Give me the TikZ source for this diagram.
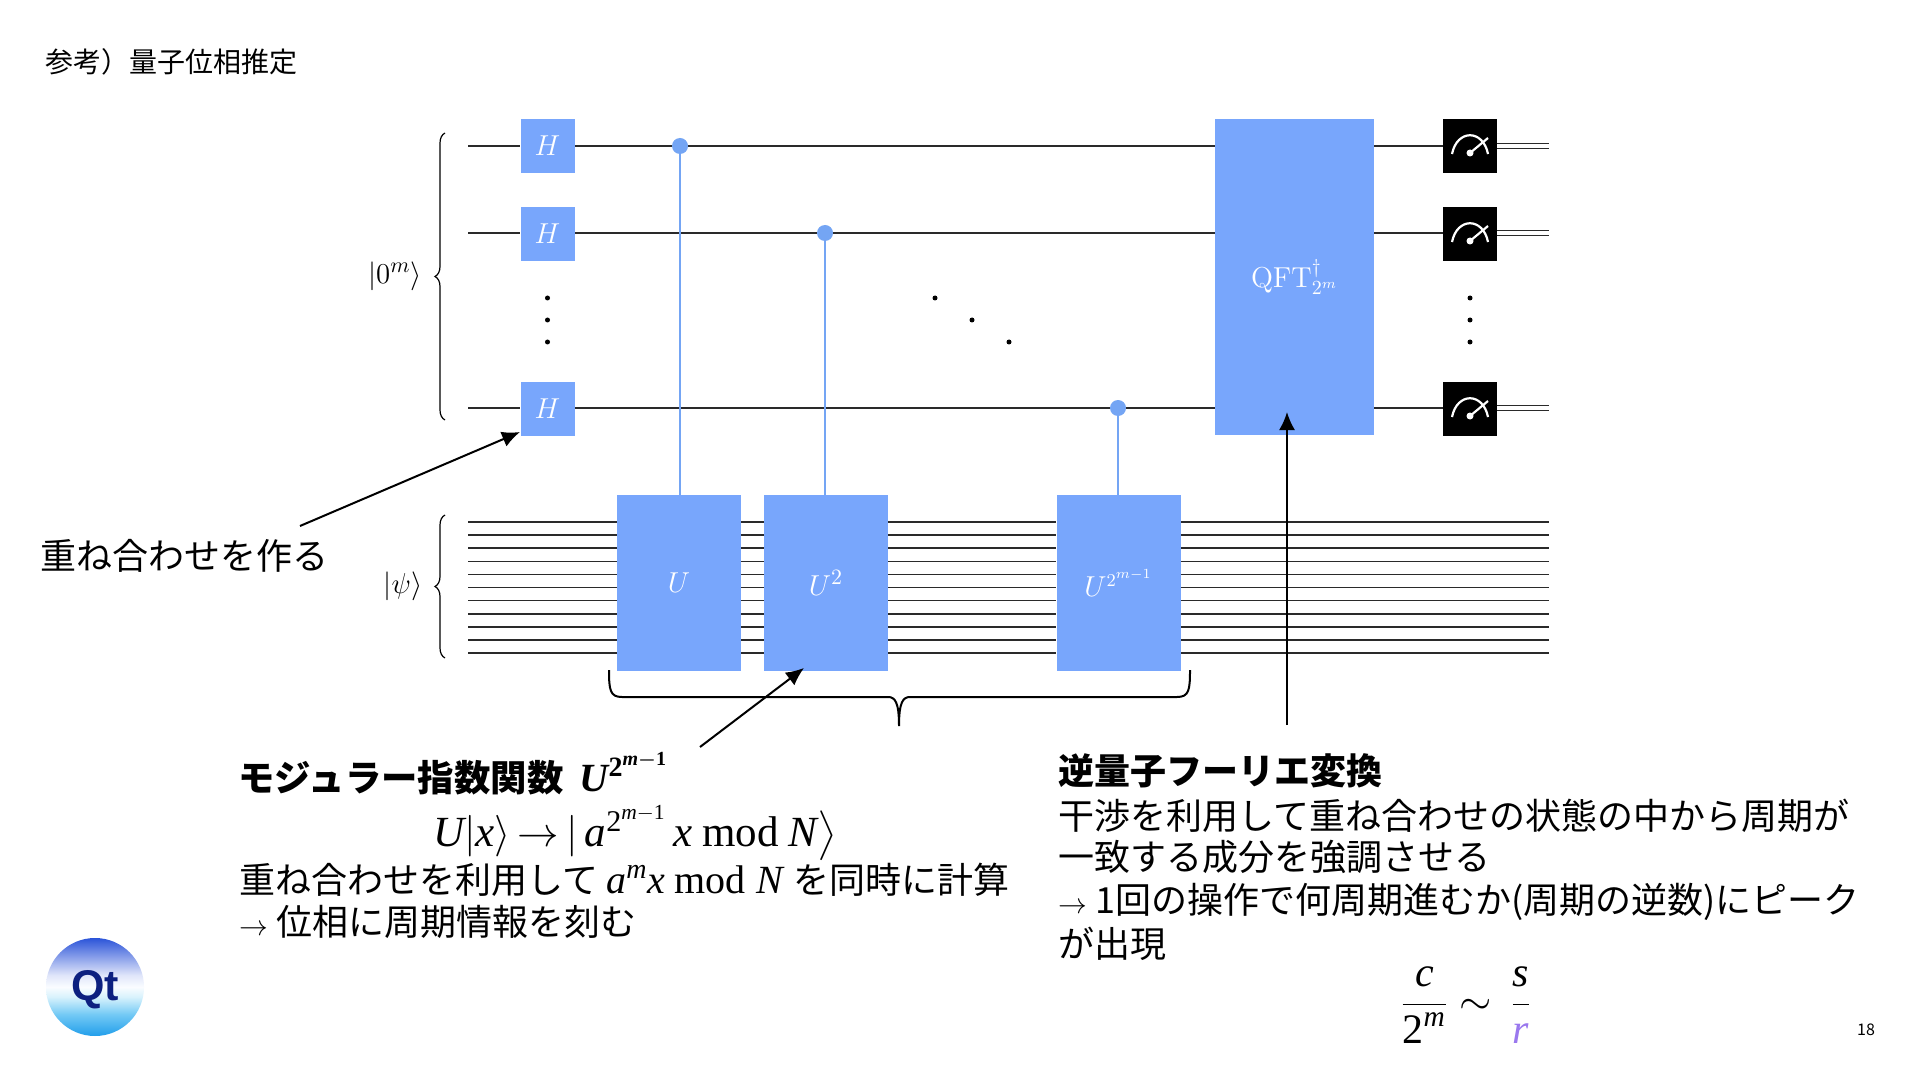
\documentclass[tikz,border=0pt]{standalone}
\usepackage{amsmath}
\usepackage[no-math]{fontspec}
\setmainfont{Noto Sans CJK JP}
\newfontfamily\cam{Liberation Serif}
\newfontfamily\hel{Liberation Sans}
\usetikzlibrary{decorations.pathreplacing,arrows.meta,backgrounds}
\newcommand{\ci}[1]{\text{\cam\itshape #1}}
\newcommand{\cn}[1]{\text{\cam #1}}
\newcommand{\modw}{\text{\cam mod}}
\newcommand{\marrow}{{\fontsize{15}{18}\selectfont$\rightarrow$}\hspace{4pt}}
\newcommand{\msize}{\fontsize{20}{22}\selectfont}
\definecolor{gateblue}{HTML}{78A6FC}
\definecolor{ctrlblue}{HTML}{74A5F4}
\definecolor{wirec}{HTML}{2A2A2A}
\definecolor{purp}{HTML}{9A78EE}
\definecolor{navyq}{HTML}{0D2080}
\pgfdeclareverticalshading{qtball}{100bp}{
 rgb(0bp)=(0.13,0.62,0.92);
 rgb(25bp)=(0.13,0.62,0.92);
 rgb(36bp)=(0.45,0.79,0.96);
 rgb(45bp)=(0.85,0.95,0.99);
 rgb(50bp)=(0.98,0.99,1);
 rgb(56bp)=(0.88,0.90,0.98);
 rgb(75bp)=(0.17,0.33,0.85);
 rgb(100bp)=(0.17,0.33,0.85)}
\tikzset{
 x=0.5pt,y=-0.5pt,
 wire/.style={draw=wirec,line width=0.8pt},
 ctrlline/.style={draw=ctrlblue,line width=1.4pt},
 ctrldot/.style={circle,fill=ctrlblue,inner sep=0pt,minimum size=8pt},
 qgate/.style={fill=gateblue,text=white,inner sep=0pt,font=\fontsize{15.5}{18}\selectfont},
 hgate/.style={qgate,minimum width=27pt,minimum height=27pt},
 ugate/.style={qgate,minimum width=62pt,minimum height=88pt},
 meter/.style={fill=black,inner sep=0pt,minimum width=27pt,minimum height=27pt},
 vdot/.style={circle,fill=black,inner sep=0pt,minimum size=2.5pt},
 lbl/.style={inner sep=0pt,anchor=west,font=\fontsize{18}{22}\selectfont},
 annot/.style={draw=black,line width=1pt,-{Latex[length=9pt,width=8pt]}},
 bracel/.style={draw=black,line width=0.6pt,decorate,decoration={brace,amplitude=5pt}},
}
\begin{document}
\begin{tikzpicture}
\useasboundingbox (0,0) rectangle (1920,1080);
% gates
\node[hgate] (h1) at (547.5,146) {$H$};
\node[hgate] (h2) at (547.5,234) {$H$};
\node[hgate] (h3) at (547.5,409) {$H$};
\node[ugate] (u1) at (679,583) {$U$};
\node[ugate] (u2) at (826,583) {$U^{2}$};
\node[ugate,font=\fontsize{13.5}{16}\selectfont] (u3) at (1118.5,583) {$U^{2^{m-1}}$};
\node[qgate,font=\fontsize{14.5}{16}\selectfont,minimum width=79.5pt,minimum height=158pt] (qft) at (1294.5,277) {$\mathrm{QFT}^{\dagger}_{2^m}$};
\node[meter] (m1) at (1470,146) {};
\node[meter] (m2) at (1470,234) {};
\node[meter] (m3) at (1470,409) {};
% top wires
\coordinate (w1) at (468,146);
\coordinate (w2) at (468,233);
\coordinate (w3) at (468,408);
\begin{scope}[on background layer]
\fill[white] (0,0) rectangle (1920,1080);
\draw[wire] (w1) -- (w1 -| h1.west);
\draw[wire] (w2) -- (w2 -| h2.west);
\draw[wire] (w3) -- (w3 -| h3.west);
\draw[wire] (w1 -| h1.east) -- (w1 -| qft.west);
\draw[wire] (w2 -| h2.east) -- (w2 -| qft.west);
\draw[wire] (w3 -| h3.east) -- (w3 -| qft.west);
\draw[wire] (w1 -| qft.east) -- (w1 -| m1.west);
\draw[wire] (w2 -| qft.east) -- (w2 -| m2.west);
\draw[wire] (w3 -| qft.east) -- (w3 -| m3.west);
% lower wires
\foreach \i in {0,...,10}{
 \coordinate (p\i) at (468,{522+13.1*\i});
 \coordinate (q\i) at (1549,{522+13.1*\i});
 \draw[wire] (p\i) -- (p\i -| u1.west);
 \draw[wire] (p\i -| u1.east) -- (p\i -| u2.west);
 \draw[wire] (p\i -| u2.east) -- (p\i -| u3.west);
 \draw[wire] (p\i -| u3.east) -- (q\i);
}
\end{scope}
% classical double lines
\foreach \m/\yy in {m1/146,m2/233,m3/408}{
 \coordinate (e\m) at (1549,\yy);
 \draw[wire] ([yshift=1.25pt]\m.east |- e\m) -- ([yshift=1.25pt]e\m);
 \draw[wire] ([yshift=-1.25pt]\m.east |- e\m) -- ([yshift=-1.25pt]e\m);
}
% controls
\node[ctrldot] (c1) at (680,146) {};
\node[ctrldot] (c2) at (825,233) {};
\node[ctrldot] (c3) at (1118,408) {};
\draw[ctrlline] (c1) -- (c1 |- u1.north);
\draw[ctrlline] (c2) -- (c2 |- u2.north);
\draw[ctrlline] (c3) -- (c3 |- u3.north);
% meter icons
\foreach \m in {m1,m2,m3}{
 \begin{scope}[shift={(\m.center)}]
 \draw[white,line width=1.1pt] (-18,8) .. controls (-13,-17) and (13,-17) .. (18,8);
 \draw[white,line width=1.1pt] (0,7) -- (18,-8);
 \fill[white] (0,7) circle (3.5);
 \end{scope}
}
% dots
\foreach \n/\xx/\yy in {a1/547.5/298,a2/547.5/320,a3/547.5/342,b1/935/298,b2/972/320,b3/1009/342,d1/1470/298,d2/1470/320,d3/1470/342}{
 \node[vdot] (\n) at (\xx,\yy) {};
}
% braces and labels
\coordinate (bl1) at (445,420);
\coordinate (bl2) at (445,133);
\coordinate (bp1) at (445,658);
\coordinate (bp2) at (445,515);
\draw[bracel] (bl1) -- (bl2);
\draw[bracel] (bp1) -- (bp2);
\node[inner sep=0pt,font=\fontsize{15.5}{18}\selectfont] (lz) at (395,276) {$|0^m\rangle$};
\node[inner sep=0pt,font=\fontsize{14}{16}\selectfont] (lp) at (403,586) {$|\psi\rangle$};
% big brace
\coordinate (bb1) at (609,670);
\coordinate (bb2) at (1190,670);
\coordinate (bbt) at (899,726);
\draw[black,line width=1pt]
 (bb1) .. controls (609,690) and (610,697) .. (622,697)
 -- (888,697) .. controls (895,697) and (899,702) .. (bbt)
 .. controls (899,702) and (903,697) .. (910,697)
 -- (1177,697) .. controls (1189,697) and (1190,690) .. (bb2);
% annotation arrows
\coordinate (a1s) at (300,526);
\coordinate (a1e) at (520,432);
\coordinate (a2s) at (700,747);
\coordinate (a2e) at (804,668);
\coordinate (a3s) at (1287,725);
\coordinate (a3e) at (1287,412);
\draw[annot] (a1s) -- (a1e);
\draw[annot] (a2s) -- (a2e);
\draw[annot] (a3s) -- (a3e);
% texts
\node[lbl,font=\fontsize{14}{16}\selectfont] (title) at (45,62) {参考）量子位相推定};
\node[lbl] (t1) at (40,556) {重ね合わせを作る};
\node[lbl,font=\fontsize{18.2}{22}\selectfont\bfseries] (t2) at (238,774) {モジュラー指数関数 {\msize\boldmath$\,\ci{U}^{\cn{2}^{\ci{m}-\cn{1}}}$}};
\node[inner sep=0pt,font=\fontsize{21.5}{24}\selectfont] (t3) at (635,833) {$\ci{U}|\ci{x}\rangle\mskip-2mu\rightarrow\mskip-2mu|\,\ci{a}^{\cn{2}^{\ci{m}-\cn{1}}}\,\ci{x}\ \modw\ \ci{N}\big\rangle$};
\node[lbl] (t4) at (239,880) {重ね合わせを利用して {\msize$\ci{a}^{\ci{m}}\ci{x}$ $\modw\;\ci{N}$\hspace{1pt}} を同時に計算};
\node[lbl] (t5) at (239,922) {\marrow 位相に周期情報を刻む};
\node[lbl,font=\fontsize{18}{22}\selectfont\bfseries] (r1) at (1058,771) {逆量子フーリエ変換};
\node[lbl] (r2) at (1058,816) {干渉を利用して重ね合わせの状態の中から周期が};
\node[lbl] (r3) at (1058,857) {一致する成分を強調させる};
\node[lbl] (r4) at (1058,902) {\marrow 1回の操作で何周期進むか(周期の逆数)にピーク};
\node[lbl] (r5) at (1058,944) {が出現};
\node[inner sep=0pt,font=\fontsize{21}{25}\selectfont] (frac) at (1466,1005) {$\dfrac{\ci{c}}{\cn{2}^{\ci{m}}}\sim\,\dfrac{\ci{s}}{\textcolor{purp}{\ci{r}}}$};
\node[inner sep=0pt,font=\fontsize{8}{10}\selectfont] (pg) at (1866,1030) {18};
% logo
\shade[shading=qtball] (95,987) circle (49);
\node[inner sep=0pt,text=navyq,font=\hel\bfseries\fontsize{21.5}{24}\selectfont] (logo) at (95,990) {Qt};
\end{tikzpicture}
\end{document}
